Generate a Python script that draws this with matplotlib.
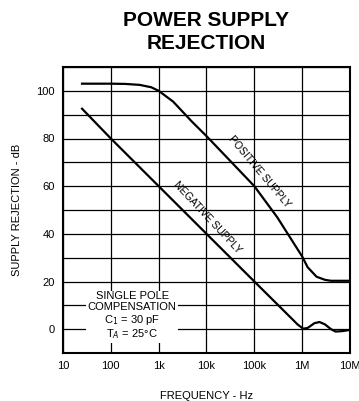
import numpy as np
import matplotlib.pyplot as plt
from matplotlib.ticker import FixedLocator, NullFormatter

plt.rcParams['font.family'] = ['Liberation Sans', 'DejaVu Sans']

# ---- data ----
pos_freq = [25, 100, 200, 400, 700, 1000, 2000, 5000, 10000, 30000, 100000,
            300000, 1e6, 1.3e6, 2e6, 3e6, 4e6, 6e6, 1e7]
pos_db = [103, 103, 102.9, 102.5, 101.5, 100, 95.5, 87, 81, 71, 60,
          47, 30.5, 26, 22, 20.7, 20.3, 20.3, 20.3]

neg_freq = [25, 100, 1000, 10000, 100000, 600000, 800000, 1.05e6, 1.3e6,
            1.8e6, 2.3e6, 3e6, 4e6, 5e6, 7e6, 1e7]
neg_db = [92.5, 80, 60, 40, 20, 4.5, 2, 0.2, 0.5, 2.5, 3, 2, 0, -1, -0.8, -0.3]

x_ticks = [10, 100, 1e3, 1e4, 1e5, 1e6, 1e7]
x_labels = ["10", "100", "1k", "10k", "100k", "1M", "10M"]
y_ticks = [0, 20, 40, 60, 80, 100]

fig = plt.figure(figsize=(3.59, 4.01), dpi=100)
ax = fig.add_axes([63 / 359, 1 - 353 / 401, 287 / 359, 286 / 401])

ax.plot(pos_freq, pos_db, color='black', lw=1.6)
ax.plot(neg_freq, neg_db, color='black', lw=1.6)

ax.set_xscale('log')
ax.set_xlim(10, 1e7)
ax.set_ylim(-10, 110)
ax.set_xticks(x_ticks)
ax.set_xticklabels(x_labels)
ax.xaxis.set_minor_locator(FixedLocator([]))
ax.set_yticks(y_ticks)
ax.yaxis.set_minor_locator(FixedLocator(list(range(-10, 111, 10))))
ax.yaxis.set_minor_formatter(NullFormatter())
ax.grid(True, which='both', color='black', lw=0.9)
ax.tick_params(which='both', length=0, labelsize=8, pad=6)
for s in ax.spines.values():
    s.set_linewidth(1.5)

ax.set_xlabel("FREQUENCY - Hz", fontsize=8, labelpad=14)
ax.set_ylabel("SUPPLY REJECTION - dB", fontsize=8, labelpad=10)

ax.text(1.25e5, 66, "POSITIVE SUPPLY", rotation=-50, fontsize=7.5,
        ha='center', va='center')
ax.text(1.05e4, 47, "NEGATIVE SUPPLY", rotation=-47, fontsize=7.5,
        ha='center', va='center')

ax.text(280, 5.5, "SINGLE POLE\nCOMPENSATION\nC$_1$ = 30 pF\nT$_A$ = 25°C",
        fontsize=8, ha='center', va='center', linespacing=1.1,
        bbox=dict(facecolor='white', edgecolor='none', pad=1))

fig.text(206 / 359, 1 - 32 / 401, "POWER SUPPLY\nREJECTION", fontsize=15,
         fontweight='bold', ha='center', va='center', linespacing=1.25)

fig.savefig("out.png", dpi=100)
